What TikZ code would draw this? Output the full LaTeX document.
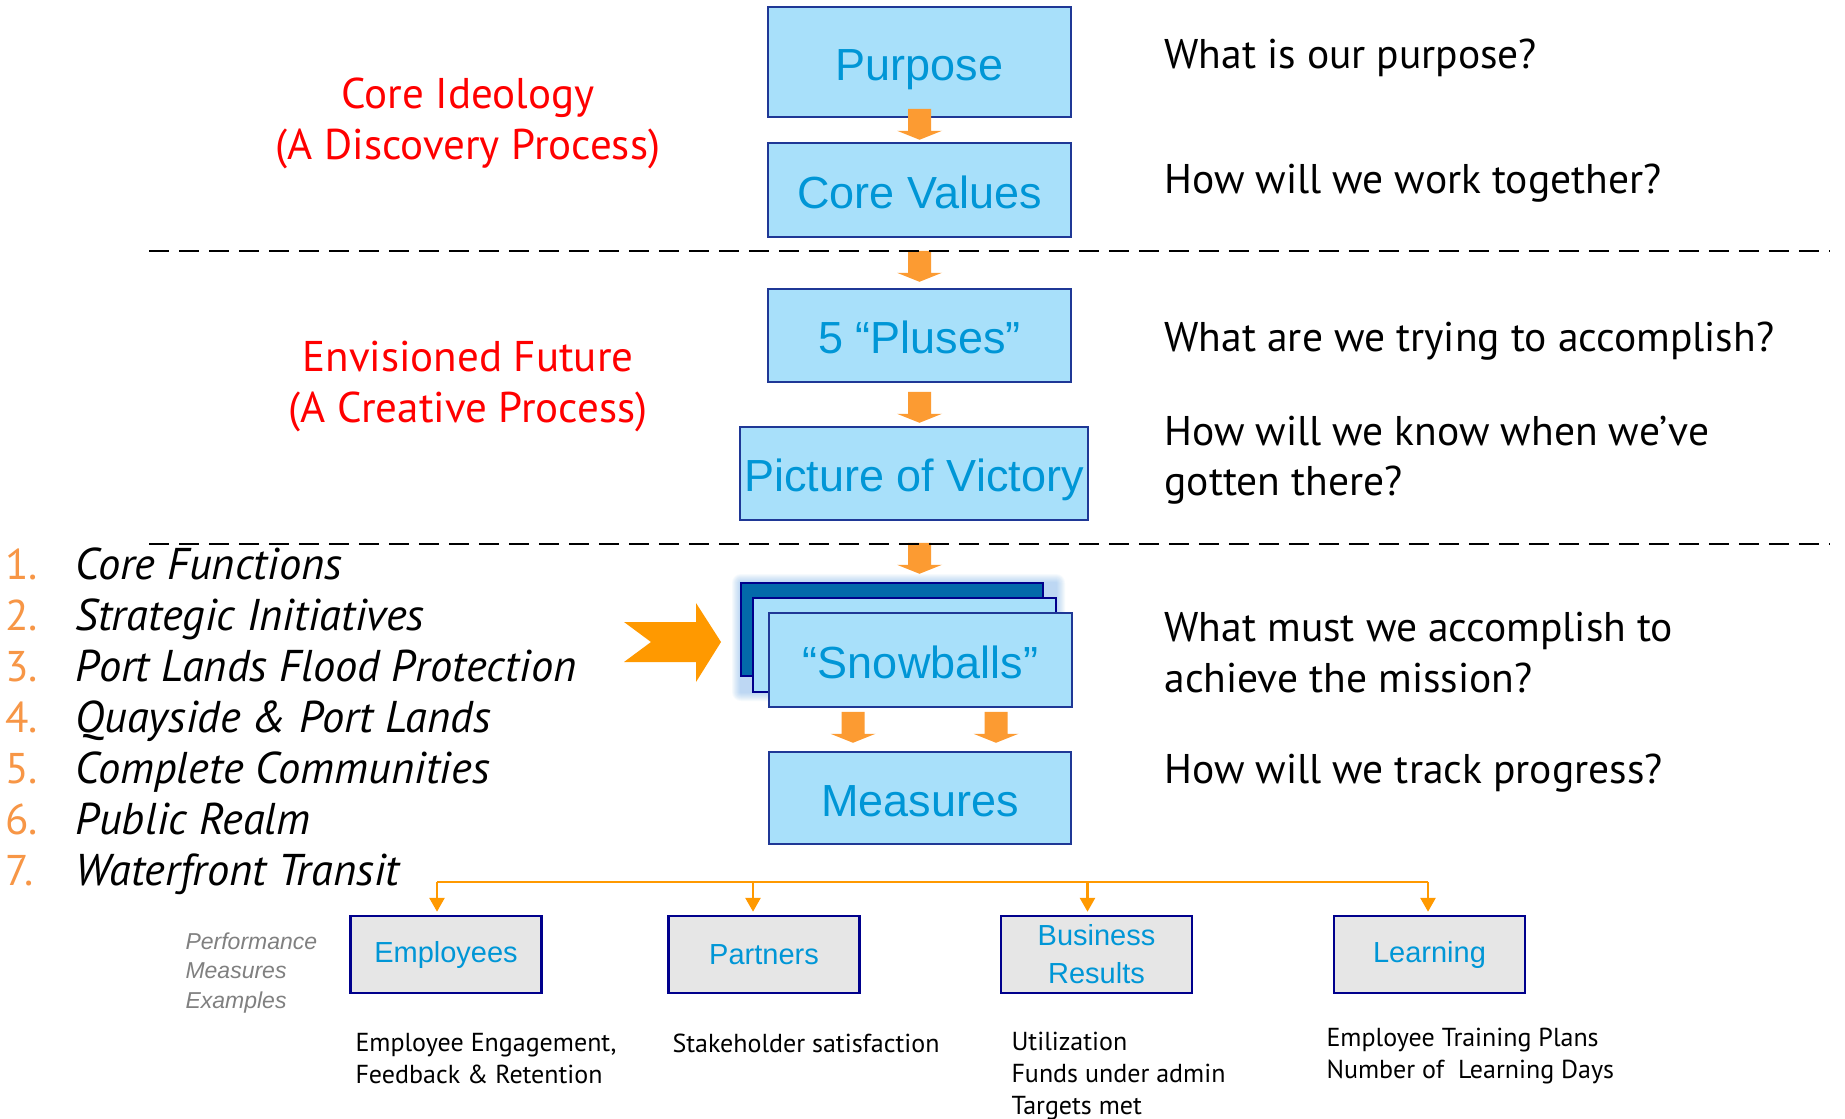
\documentclass[tikz,border=0pt]{standalone}
\usepackage{fontspec}
\setmainfont{PT Sans}
\newfontfamily\boxfont{Liberation Sans}
\usetikzlibrary{arrows.meta,calc}
\definecolor{boxfill}{RGB}{168,224,250}
\definecolor{boxline}{RGB}{31,56,150}
\definecolor{boxtext}{RGB}{0,150,214}
\definecolor{stackdark}{RGB}{3,105,170}
\definecolor{navy}{RGB}{0,0,140}
\definecolor{flow}{RGB}{252,155,50}
\definecolor{bigorange}{RGB}{255,153,0}
\definecolor{numcolor}{RGB}{247,150,70}
\definecolor{cardfill}{RGB}{230,230,230}
\definecolor{glow}{RGB}{90,160,230}

\tikzset{
  stage/.style={draw=boxline, line width=2.5pt, fill=boxfill, text=boxtext,
    inner sep=0pt, minimum width=303pt, minimum height=94pt,
    text height=36.5pt, text depth=0pt,
    font=\boxfont\fontsize{45}{50}\selectfont},
  % short block arrow, tip at the pic origin
  pics/flowdrop/.style={code={
    \fill[flow] (-11.5,-31) -- (11.5,-31) -- (11.5,-9) -- (22.5,-9)
      -- (0,0) -- (-22.5,-9) -- (-11.5,-9) -- cycle;}},
  question/.style={anchor=west, align=left, font=\fontsize{41.5}{50.5}\selectfont},
  phase/.style={text=red, align=center, font=\fontsize{43}{51}\selectfont},
  itemnum/.style={anchor=base west, text=numcolor, font=\fontsize{43}{48}\selectfont},
  item/.style={anchor=base west, font=\itshape\fontsize{44.5}{48}\selectfont},
  card/.style={draw=navy, line width=2.5pt, fill=cardfill, text=boxtext,
    align=center, inner sep=0pt, minimum width=191pt, minimum height=77pt,
    font=\boxfont\fontsize{29}{38}\selectfont},
  note/.style={anchor=west, align=left, font=\fontsize{26}{32}\selectfont},
  barline/.style={draw=bigorange, line width=2.8pt},
  divider/.style={black, line width=2.5pt, dash pattern=on 20pt off 10pt}
}

\begin{document}
\begin{tikzpicture}[x=1pt, y=-1pt]

\fill[white] (0,0) rectangle (1845,1119);
\useasboundingbox (0,0) rectangle (1845,1119);

% ================= CENTRE COLUMN =================
\node[stage, minimum height=110pt] (purpose) at (919.5,62) {Purpose};
\node[stage] (core) at (919.5,190) {Core Values};
\node[stage, minimum height=93pt] (pluses) at (919.5,335.5) {5 “Pluses”};
\node[stage, minimum width=348pt, minimum height=93pt] (victory) at (914,473.5) {Picture of Victory};

% stacked snowball cards with a soft glow behind
\foreach \g in {1,...,9}
  \fill[glow, opacity=0.05, rounded corners=\g pt]
    ([xshift=-\g pt, yshift=\g pt]741,583) rectangle ([xshift=\g pt, yshift=-\g pt]1056,692);
\node[stage, fill=stackdark, draw=navy, minimum width=302pt, minimum height=93pt] (sb3) at (892,629.5) {};
\node[stage, draw=navy, minimum height=94pt] (sb2) at (904.5,645) {};
\node[stage] (snow) at (920.5,660) {“Snowballs”};

\node[stage, minimum width=302pt, minimum height=92pt] (meas) at (920,798) {Measures};

% down arrows between the stages
\pic at ([yshift=2pt]core.north) {flowdrop};
\pic at ([yshift=6pt]pluses.north) {flowdrop};
\pic at ([xshift=5.5pt, yshift=3pt]victory.north) {flowdrop};
\pic at ([xshift=-1pt, yshift=8pt]sb3.north -| snow.north) {flowdrop};
\pic at ([xshift=-67pt, yshift=8pt]meas.north) {flowdrop};
\pic at ([xshift=76pt, yshift=8pt]meas.north) {flowdrop};

% ================= DIVIDERS =================
\draw[divider] (149,251) -- (1830,251);
\draw[divider] (149,544) -- (1830,544);

% ================= LEFT: PHASES =================
\node[phase] (ideology) at (468,123) {Core Ideology\\(A Discovery Process)};
\node[phase] (future) at (468,386.5) {Envisioned Future\\(A Creative Process)};

% ================= RIGHT: QUESTIONS =================
\node[question] (q1) at (1161,58) {What is our purpose?};
\node[question] (q2) at (1161,183) {How will we work together?};
\node[question] (q3) at (1161,341) {What are we trying to accomplish?};
\node[question] (q4) at (1161,460) {How will we know when we’ve\\gotten there?};
\node[question] (q5) at (1161,652.5) {What must we accomplish to\\achieve the mission?};
\node[question] (q6) at (1161,773) {How will we track progress?};

% ================= PRIORITY LIST =================
\foreach \txt [count=\i] in {Core Functions, Strategic Initiatives,
    Port Lands Flood Protection, Quayside \& Port Lands,
    Complete Communities, Public Realm, Waterfront Transit} {
  \node[itemnum] (num\i) at (2,{579+51*(\i-1)}) {\i.};
  \node[item] (item\i) at (72,{579+51*(\i-1)}) {\txt};
}

% big arrow into the snowballs
\fill[bigorange] (624,622) -- (651,642) -- (624,662) -- (696,662) -- (696,682)
  -- (721,642) -- (696,603) -- (696,622) -- cycle;

% ================= PERFORMANCE MEASURES =================
\node[anchor=west, align=left, text=gray, font=\boxfont\itshape\fontsize{23}{29.5}\selectfont]
  (perf) at (182,973) {Performance\\Measures\\Examples};

\node[card] (emp) at (446,954.5) {Employees};
\node[card] (part) at (764,954.5) {Partners};
\node[card] (bus) at (1096.5,954.5) {Business\\Results};
\node[card] (learn) at (1429.5,954.5) {Learning};

\coordinate (barL) at (437,882);
\coordinate (barR) at (1428,882);
\draw[barline] (barL) -- (barR);
\foreach \b/\dx in {emp/-9, part/-11, bus/-9, learn/-1.5}
  \draw[barline, -{Triangle[length=14pt, width=15pt]}, shorten >=3pt]
    ([xshift=\dx pt]\b.north |- barL) -- ([xshift=\dx pt]\b.north);

\node[note] (empnote) at (352,1059) {Employee Engagement,\\Feedback \& Retention};
\node[note] (partnote) at (669,1043) {Stakeholder satisfaction};
\node[note] (busnote) at (1008,1076) {Utilization\\Funds under admin\\Targets met};
\node[note] (learnnote) at (1323,1056) {Employee Training Plans\\Number of\ \ Learning Days};

\end{tikzpicture}
\end{document}
